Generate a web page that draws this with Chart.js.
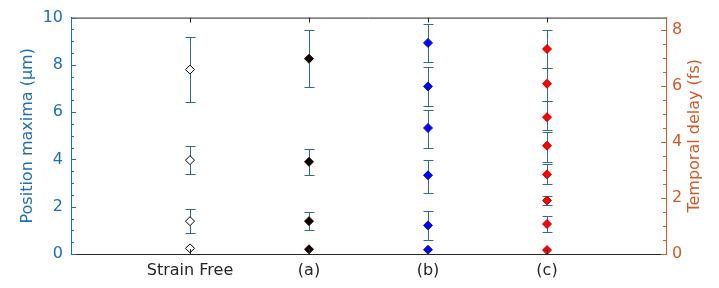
<!DOCTYPE html>
<html>
<head>
<meta charset="utf-8">
<script src="https://cdn.jsdelivr.net/npm/chart.js@4"></script>
<style>
  html, body { margin: 0; padding: 0; background: #fff; }
  #wrap { width: 719px; height: 288px; }
</style>
</head>
<body>
<div id="wrap"><canvas id="myChart" width="719" height="288"></canvas></div>
<script>
// categories along x (placed at 1..4)
var categories = ["Strain Free", "(a)", "(b)", "(c)"];
var leftTicks = [0, 2, 4, 6, 8, 10];
var rightTicks = [0, 2, 4, 6, 8];

// strain free - open diamonds (left axis, um)
var freeVals = [7.80, 3.97, 1.39, 0.24];
var freeHi   = [9.20, 4.57, 1.89, null];
var freeLo   = [6.41, 3.38, 0.87, null];

// (a) - black filled diamonds (left axis, um)
var aVals = [8.26, 3.90, 1.39, 0.20];
var aHi   = [9.46, 4.46, 1.78, null];
var aLo   = [7.07, 3.33, 1.01, null];

// (b) - blue diamonds (left axis, um)
var bVals = [8.93, 7.09, 5.33, 3.33, 1.21, 0.18];
var bHi   = [9.73, 7.90, 6.10, 3.98, 1.83, null];
var bLo   = [8.13, 6.27, 4.50, 2.60, 0.59, null];

// (c) - red diamonds (right axis, fs)
var cVals = [7.31, 6.07, 4.88, 3.86, 2.84, 1.91, 1.07, 0.14];
var cHi   = [7.98, 6.65, 5.45, 4.34, 3.20, 2.07, 1.36, null];
var cLo   = [6.65, 5.45, 4.41, 3.28, 2.51, 1.75, 0.79, null];

var blue = "#1f70b0";
var orange = "#d35a24";
var dark = "#262626";
var errColor = "#2f6b8c";
var rightTitle = "Temporal delay (fs)";

function pts(xi, vals){
  return vals.map(function(v){ return {x: xi, y: v}; });
}

//plugin for error bars + inward tick marks + top box line + right title
var extras = {
  id: "extras",
  beforeDatasetsDraw: function(chart){
    var ctx = chart.ctx;
    ctx.save();
    ctx.strokeStyle = errColor;
    ctx.lineWidth = 1;
    chart.data.datasets.forEach(function(ds, i){
      var meta = chart.getDatasetMeta(i);
      var ys = chart.scales[meta.yAxisID];
      var xs = chart.scales.x;
      ds.data.forEach(function(p, j){
        if (ds.hi[j] == null) return;
        var px = Math.round(xs.getPixelForValue(p.x)) + 0.5;
        var top = Math.round(ys.getPixelForValue(ds.hi[j])) + 0.5;
        var bot = Math.round(ys.getPixelForValue(ds.lo[j])) + 0.5;
        ctx.beginPath();
        ctx.moveTo(px, top); ctx.lineTo(px, bot);
        ctx.moveTo(px - 5, top); ctx.lineTo(px + 5, top);
        ctx.moveTo(px - 5, bot); ctx.lineTo(px + 5, bot);
        ctx.stroke();
      });
    });
    ctx.restore();
  },
  afterDraw: function(chart){
    var ctx = chart.ctx;
    var a = chart.chartArea;
    ctx.save();
    ctx.lineWidth = 1;
    // top box line
    ctx.strokeStyle = dark;
    ctx.beginPath();
    ctx.moveTo(a.left, a.top + 0.5); ctx.lineTo(a.right, a.top + 0.5);
    ctx.stroke();
    // x ticks bottom and top
    var xs = chart.scales.x;
    xs.ticks.forEach(function(t){
      var px = Math.round(xs.getPixelForValue(t.value)) + 0.5;
      ctx.beginPath();
      ctx.moveTo(px, a.bottom); ctx.lineTo(px, a.bottom - 5);
      ctx.moveTo(px, a.top); ctx.lineTo(px, a.top + 5);
      ctx.stroke();
    });
    // y ticks, majors and minors
    var yl = chart.scales.y, yr = chart.scales.y2;
    ctx.strokeStyle = blue;
    for (var v = 0; v <= 10; v += 0.5){
      var py = Math.round(yl.getPixelForValue(v)) + 0.5;
      var len = (v % 2 === 0) ? 5 : 3;
      ctx.beginPath();
      ctx.moveTo(a.left, py); ctx.lineTo(a.left + len, py);
      ctx.stroke();
    }
    ctx.strokeStyle = orange;
    for (var w = 0; w <= 8; w += 0.5){
      var qy = Math.round(yr.getPixelForValue(w)) + 0.5;
      var len2 = (w % 2 === 0) ? 5 : 3;
      ctx.beginPath();
      ctx.moveTo(a.right, qy); ctx.lineTo(a.right - len2, qy);
      ctx.stroke();
    }
    // right axis title, reading bottom to top
    ctx.translate(a.right + 29, (a.top + a.bottom) / 2);
    ctx.rotate(-Math.PI / 2);
    ctx.fillStyle = orange;
    ctx.font = "16px 'DejaVu Sans', sans-serif";
    ctx.textAlign = "center";
    ctx.textBaseline = "middle";
    ctx.fillText(rightTitle, 0, 0);
    ctx.restore();
  }
};

Chart.defaults.font.family = "'DejaVu Sans', sans-serif";
Chart.defaults.font.size = 16;

new Chart("myChart", {
  type: "scatter",
  data: {
    datasets: [
      { data: pts(1, freeVals), hi: freeHi, lo: freeLo, yAxisID: "y",
        pointStyle: "rectRot", pointRadius: 4.5, borderWidth: 1,
        backgroundColor: "#ffffff", borderColor: "#000000" },
      { data: pts(2, aVals), hi: aHi, lo: aLo, yAxisID: "y",
        pointStyle: "rectRot", pointRadius: 4.5, borderWidth: 1,
        backgroundColor: "#000000", borderColor: "#3a0000" },
      { data: pts(3, bVals), hi: bHi, lo: bLo, yAxisID: "y",
        pointStyle: "rectRot", pointRadius: 4.5, borderWidth: 1,
        backgroundColor: "#0000ff", borderColor: "#1010c0" },
      { data: pts(4, cVals), hi: cHi, lo: cLo, yAxisID: "y2",
        pointStyle: "rectRot", pointRadius: 4.5, borderWidth: 1,
        backgroundColor: "#ff0000", borderColor: "#c00000" }
    ]
  },
  options: {
    responsive: false,
    animation: false,
    layout: { padding: { top: 17, left: 0, right: 0, bottom: 0 } },
    plugins: { legend: { display: false }, tooltip: { enabled: false } },
    scales: {
      x: {
        type: "linear", min: 0, max: 5,
        grid: { display: false, drawTicks: false },
        border: { display: true, color: dark },
        ticks: { color: dark, padding: 7, callback: function(v){ return categories[v - 1]; } },
        afterBuildTicks: function(s){ s.ticks = [1, 2, 3, 4].map(function(v){ return {value: v}; }); },
        afterFit: function(s){ s.height = 34; }
      },
      y: {
        position: "left", min: 0, max: 10,
        grid: { display: false, drawTicks: false },
        border: { display: true, color: blue },
        ticks: { color: blue, padding: 8 },
        afterBuildTicks: function(s){ s.ticks = leftTicks.map(function(v){ return {value: v}; }); },
        title: { display: true, text: "Position maxima (μm)", color: blue, font: { size: 16 }, padding: { top: 18, bottom: 0 } },
        afterFit: function(s){ s.width = 71; }
      },
      y2: {
        position: "right", min: 0, max: 8.43,
        grid: { display: false, drawTicks: false },
        border: { display: true, color: orange },
        ticks: { color: orange, padding: 6 },
        afterBuildTicks: function(s){ s.ticks = rightTicks.map(function(v){ return {value: v}; }); },
        afterFit: function(s){ s.width = 53; }
      }
    }
  },
  plugins: [extras]
});
</script>
</body>
</html>
